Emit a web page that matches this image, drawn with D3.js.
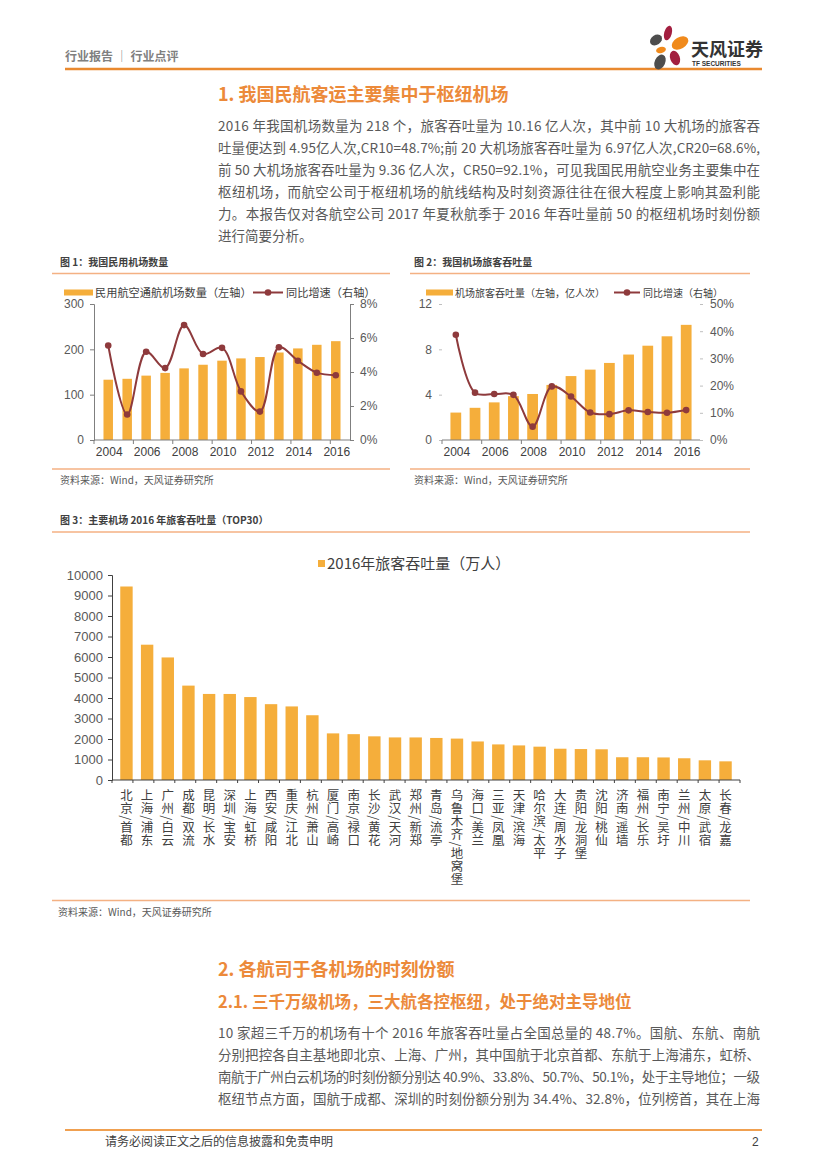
<!DOCTYPE html>
<html><head><meta charset="utf-8">
<script src="https://cdn.jsdelivr.net/npm/d3@7"></script>
<style>body{margin:0;background:#fff}svg{display:block}</style>
</head><body><svg id="page" width="827" height="1169"></svg>
<script>
// ---------- DATA ----------
const years = [2004,2005,2006,2007,2008,2009,2010,2011,2012,2013,2014,2015,2016];
const yearLabels = [2004,2006,2008,2010,2012,2014,2016];
const airportCount = [133,135,142,148,158,166,175,180,183,193,202,210,218];
const airportGrowth = [5.56,1.50,5.19,4.23,6.76,5.06,5.42,2.86,1.67,5.46,4.66,3.96,3.81];
const passengerVolume = [2.42,2.84,3.32,3.87,4.06,4.86,5.64,6.21,6.80,7.54,8.32,9.15,10.16];
const passengerGrowth = [38.7,17.4,16.9,16.6,4.9,19.7,16.0,10.1,9.5,10.9,10.3,10.0,11.0];
const leftTicks1 = [0,100,200,300];
const rightTicks1 = [0,2,4,6,8];
const leftTicks2 = [0,4,8,12];
const rightTicks2 = [0,10,20,30,40,50];
const airportNames = ["北京/首都","上海/浦东","广州/白云","成都/双流","昆明/长水","深圳/宝安","上海/虹桥","西安/咸阳","重庆/江北","杭州/萧山","厦门/高崎","南京/禄口","长沙/黄花","武汉/天河","郑州/新郑","青岛/流亭","乌鲁木齐/地窝堡","海口/美兰","三亚/凤凰","天津/滨海","哈尔滨/太平","大连/周水子","贵阳/龙洞堡","沈阳/桃仙","济南/遥墙","福州/长乐","南宁/吴圩","兰州/中川","太原/武宿","长春/龙嘉"];
const airportPassengers = [9439,6600,5978,4604,4198,4197,4046,3699,3589,3159,2274,2236,2130,2077,2076,2051,2020,1880,1736,1687,1626,1526,1510,1498,1110,1110,1100,1060,960,910];
const ticks3 = [0,1000,2000,3000,4000,5000,6000,7000,8000,9000,10000];

const para1 = [
 "2016 年我国机场数量为 218 个，旅客吞吐量为 10.16 亿人次，其中前 10 大机场的旅客吞",
 "吐量便达到 4.95亿人次,CR10=48.7%;前 20 大机场旅客吞吐量为 6.97亿人次,CR20=68.6%,",
 "前 50 大机场旅客吞吐量为 9.36 亿人次，CR50=92.1%，可见我国民用航空业务主要集中在",
 "枢纽机场，而航空公司于枢纽机场的航线结构及时刻资源往往在很大程度上影响其盈利能",
 "力。本报告仅对各航空公司 2017 年夏秋航季于 2016 年吞吐量前 50 的枢纽机场时刻份额",
 "进行简要分析。"];
const para2 = [
 "10 家超三千万的机场有十个 2016 年旅客吞吐量占全国总量的 48.7%。国航、东航、南航",
 "分别把控各自主基地即北京、上海、广州，其中国航于北京首都、东航于上海浦东，虹桥、",
 "南航于广州白云机场的时刻份额分别达 40.9%、33.8%、50.7%、50.1%，处于主导地位；一级",
 "枢纽节点方面，国航于成都、深圳的时刻份额分别为 34.4%、32.8%，位列榜首，其在上海"];

// ---------- STYLE ----------
const FONT = "'Liberation Sans','Noto Sans CJK SC',sans-serif";
const CJK = "'Noto Sans CJK SC','Liberation Sans',sans-serif";
const BAR = "#F5AE3B", LINE = "#8E3A3C", ORANGE = "#EC8A3A", AX = "#7f7f7f", TXT = "#595959";

const svg = d3.select('#page');
svg.append('rect').attr('width',827).attr('height',1169).attr('fill','#fff');

function txt(x,y,s,opt={}){
  const t = svg.append('text').attr('x',x).attr('y',y).text(s)
    .attr('font-family',opt.family||CJK).attr('font-size',opt.size||12)
    .attr('fill',opt.fill||TXT).attr('font-weight',opt.weight||'normal')
    .attr('text-anchor',opt.anchor||'start');
  if(opt.len){t.attr('textLength',opt.len).attr('lengthAdjust','spacing');}
  return t;
}
function hline(x1,x2,y,c,w){svg.append('line').attr('x1',x1).attr('x2',x2).attr('y1',y).attr('y2',y).attr('stroke',c).attr('stroke-width',w);}

// ---------- HEADER ----------
txt(65,61,"行业报告 │ 行业点评",{size:12,weight:'bold',fill:'#808080'});
hline(65,762,69,"#E9892F",2.5);
const petals = [
  {cx:656,cy:40,rx:6.5,ry:4.8,rot:-35,c:"#4d4d4d"},
  {cx:668,cy:33,rx:3.8,ry:7.5,rot:15,c:"#A31F40"},
  {cx:680,cy:43,rx:9,ry:5.8,rot:-30,c:"#F08A1C"},
  {cx:661,cy:50,rx:5,ry:3.2,rot:-15,c:"#F08A1C"},
  {cx:660,cy:62,rx:5.2,ry:7.8,rot:25,c:"#4d4d4d"},
  {cx:675,cy:58,rx:4.8,ry:7.5,rot:-20,c:"#A31F40"}];
svg.selectAll('ellipse.petal').data(petals).enter().append('ellipse')
  .attr('cx',d=>d.cx).attr('cy',d=>d.cy).attr('rx',d=>d.rx).attr('ry',d=>d.ry)
  .attr('transform',d=>`rotate(${d.rot},${d.cx},${d.cy})`).attr('fill',d=>d.c);
txt(691,56,"天风证券",{size:18,weight:'bold',fill:'#333'});
txt(692,66,"TF SECURITIES",{size:6.5,weight:'bold',fill:'#333',family:FONT});

// ---------- SECTION 1 ----------
txt(218,101,"1. 我国民航客运主要集中于枢纽机场",{size:18,weight:'bold',fill:ORANGE});
para1.forEach((s,i)=>txt(218,131+i*22,s,{size:13.5,fill:TXT,len:i<para1.length-1?542:null}));

// ---------- COMBO CHART ----------
function combo(cfg){
  const g = svg.append('g');
  const x = d3.scaleBand().domain(years).range([cfg.x0,cfg.x1]).padding(cfg.pad);
  const yl = d3.scaleLinear().domain(cfg.ld).range([cfg.yb,cfg.yt]);
  const yr = d3.scaleLinear().domain(cfg.rd).range([cfg.yb,cfg.yt]);
  g.selectAll('rect.bar').data(cfg.bars).enter().append('rect')
    .attr('x',(d,i)=>x(years[i])).attr('width',x.bandwidth())
    .attr('y',d=>yl(d)).attr('height',d=>cfg.yb-yl(d)).attr('fill',BAR);
  const la = d3.axisLeft(yl).tickValues(cfg.lt).tickSize(cfg.tickL).tickPadding(cfg.padL).tickFormat(d3.format('d'));
  const lg = g.append('g').attr('transform',`translate(${cfg.x0},0)`).call(la);
  const ra = d3.axisRight(yr).tickValues(cfg.rt).tickSize(cfg.tickL).tickPadding(cfg.padL).tickFormat(d=>d+'%');
  const rg = g.append('g').attr('transform',`translate(${cfg.x1},0)`).call(ra);
  [lg,rg].forEach(a=>{
    a.select('.domain').attr('stroke',AX).attr('stroke-width',1).style('display',cfg.showY?null:'none');
    a.selectAll('.tick line').attr('stroke',cfg.showY?AX:'#bfbfbf');
    a.selectAll('.tick text').attr('font-family',FONT).attr('font-size',12).attr('fill',TXT);
  });
  const xb = d3.scaleLinear().domain([0,years.length]).range([cfg.x0,cfg.x1]);
  hline(cfg.x0,cfg.x1,cfg.yb,AX,1);
  g.selectAll('line.xt').data(d3.range(0,years.length+1,2)).enter().append('line')
    .attr('x1',d=>xb(d)).attr('x2',d=>xb(d)).attr('y1',cfg.yb).attr('y2',cfg.yb+4).attr('stroke',AX);
  g.selectAll('text.xl').data(yearLabels).enter().append('text')
    .attr('x',d=>x(d)+x.bandwidth()/2+1).attr('y',cfg.yb+16).attr('text-anchor','middle')
    .attr('font-family',FONT).attr('font-size',12).attr('fill','#404040').text(d=>d);
  const pts = cfg.line.map((v,i)=>[x(years[i])+x.bandwidth()/2, yr(v)]);
  g.append('path').attr('d',d3.line().curve(d3.curveCatmullRom.alpha(0.5))(pts))
    .attr('fill','none').attr('stroke',LINE).attr('stroke-width',2);
  g.selectAll('circle.pt').data(pts).enter().append('circle')
    .attr('cx',d=>d[0]).attr('cy',d=>d[1]).attr('r',3.3).attr('fill',LINE);
  const L = cfg.legend;
  svg.append('rect').attr('x',L.sx).attr('y',L.y-3).attr('width',L.sw).attr('height',6).attr('fill',BAR);
  txt(L.sx+L.sw+2,L.y+4,L.t1,{size:L.size,fill:'#404040'});
  hline(L.lx,L.lx+L.lw,L.y,LINE,2);
  svg.append('circle').attr('cx',L.lx+L.lw/2).attr('cy',L.y).attr('r',3.3).attr('fill',LINE);
  txt(L.lx+L.lw+3,L.y+4,L.t2,{size:L.size,fill:'#404040'});
}

// chart 1
txt(60,266,"图 1：我国民用机场数量",{size:10,weight:'bold',fill:'#404040'});
hline(52,390,273.5,"#F4B183",1.5);
combo({x0:94,x1:350,yb:440,yt:304,pad:0.5,ld:[0,300],rd:[0,8],lt:leftTicks1,rt:rightTicks1,
  tickL:4,padL:6,showY:true,bars:airportCount,line:airportGrowth,
  legend:{sx:64,sw:29,y:292.5,lx:253,lw:30,size:11.2,t1:"民用航空通航机场数量（左轴）",t2:"同比增速（右轴）"}});
hline(52,390,469,"#F4B183",1.5);
txt(60,484,"资料来源：Wind，天风证券研究所",{size:10,fill:TXT});

// chart 2
txt(414,266,"图 2：我国机场旅客吞吐量",{size:10,weight:'bold',fill:'#404040'});
hline(410,750,273.5,"#F4B183",1.5);
combo({x0:442,x1:700,yb:440,yt:304,pad:0.44,ld:[0,12],rd:[0,50],lt:leftTicks2,rt:rightTicks2,
  tickL:3,padL:7,showY:false,bars:passengerVolume,line:passengerGrowth,
  legend:{sx:426,sw:27,y:292.5,lx:614,lw:26,size:10,t1:"机场旅客吞吐量（左轴，亿人次）",t2:"同比增速（右轴）"}});
hline(410,750,469,"#F4B183",1.5);
txt(414,484,"资料来源：Wind，天风证券研究所",{size:10,fill:TXT});

// ---------- CHART 3 ----------
txt(60,524,"图 3：主要机场 2016 年旅客吞吐量（TOP30）",{size:10,weight:'bold',fill:'#404040'});
hline(52,750,532,"#F4B183",1.5);
(function(){
  const x0=112,x1=740,yb=780,yt=575;
  const g = svg.append('g');
  const x = d3.scaleBand().domain(airportNames).range([x0,x1]).padding(0.4);
  const y = d3.scaleLinear().domain([0,10000]).range([yb,yt]);
  g.selectAll('rect').data(airportPassengers).enter().append('rect')
    .attr('x',(d,i)=>x(airportNames[i])).attr('width',x.bandwidth())
    .attr('y',d=>y(d)).attr('height',d=>yb-y(d)).attr('fill',BAR);
  const ya = g.append('g').attr('transform',`translate(${x0},0)`)
    .call(d3.axisLeft(y).tickValues(ticks3).tickSize(4).tickPadding(5).tickFormat(d3.format('d')));
  ya.select('.domain').attr('stroke','#404040');
  ya.selectAll('.tick line').attr('stroke','#404040');
  ya.selectAll('.tick text').attr('font-family',FONT).attr('font-size',13).attr('fill',TXT);
  hline(x0,x1,yb,'#404040',1);
  const step = (x1-x0)/airportNames.length;
  g.selectAll('line.xt').data(d3.range(airportNames.length+1)).enter().append('line')
    .attr('x1',d=>x0+d*step).attr('x2',d=>x0+d*step).attr('y1',yb).attr('y2',yb+3).attr('stroke','#404040');
  // vertical labels, one column each
  g.selectAll('text.vl').data(airportNames).enter().append('text')
    .attr('x',d=>x(d)+x.bandwidth()/2).attr('y',789)
    .style('writing-mode','vertical-rl').style('text-orientation','mixed')
    .attr('font-family',CJK).attr('font-size',12.5).attr('letter-spacing',0.6)
    .attr('fill','#404040').text(d=>d);
  svg.append('rect').attr('x',318).attr('y',560).attr('width',7).attr('height',7).attr('fill',BAR);
  txt(327,569,"2016年旅客吞吐量（万人）",{size:15,fill:'#404040'});
})();
hline(52,750,900.5,"#F4B183",1.5);
txt(58,916,"资料来源：Wind，天风证券研究所",{size:10,fill:TXT});

// ---------- SECTION 2 ----------
txt(218,976,"2. 各航司于各机场的时刻份额",{size:18,weight:'bold',fill:ORANGE});
txt(218,1008,"2.1. 三千万级机场，三大航各控枢纽，处于绝对主导地位",{size:16.5,weight:'bold',fill:ORANGE});
para2.forEach((s,i)=>txt(218,1038+i*22,s,{size:13.5,fill:TXT,len:542}));

// ---------- FOOTER ----------
hline(65,762,1130,"#F0A050",2);
txt(105,1146,"请务必阅读正文之后的信息披露和免责申明",{size:12,fill:'#404040'});
txt(752,1146,"2",{size:12,fill:'#404040',family:FONT});
</script></body></html>
